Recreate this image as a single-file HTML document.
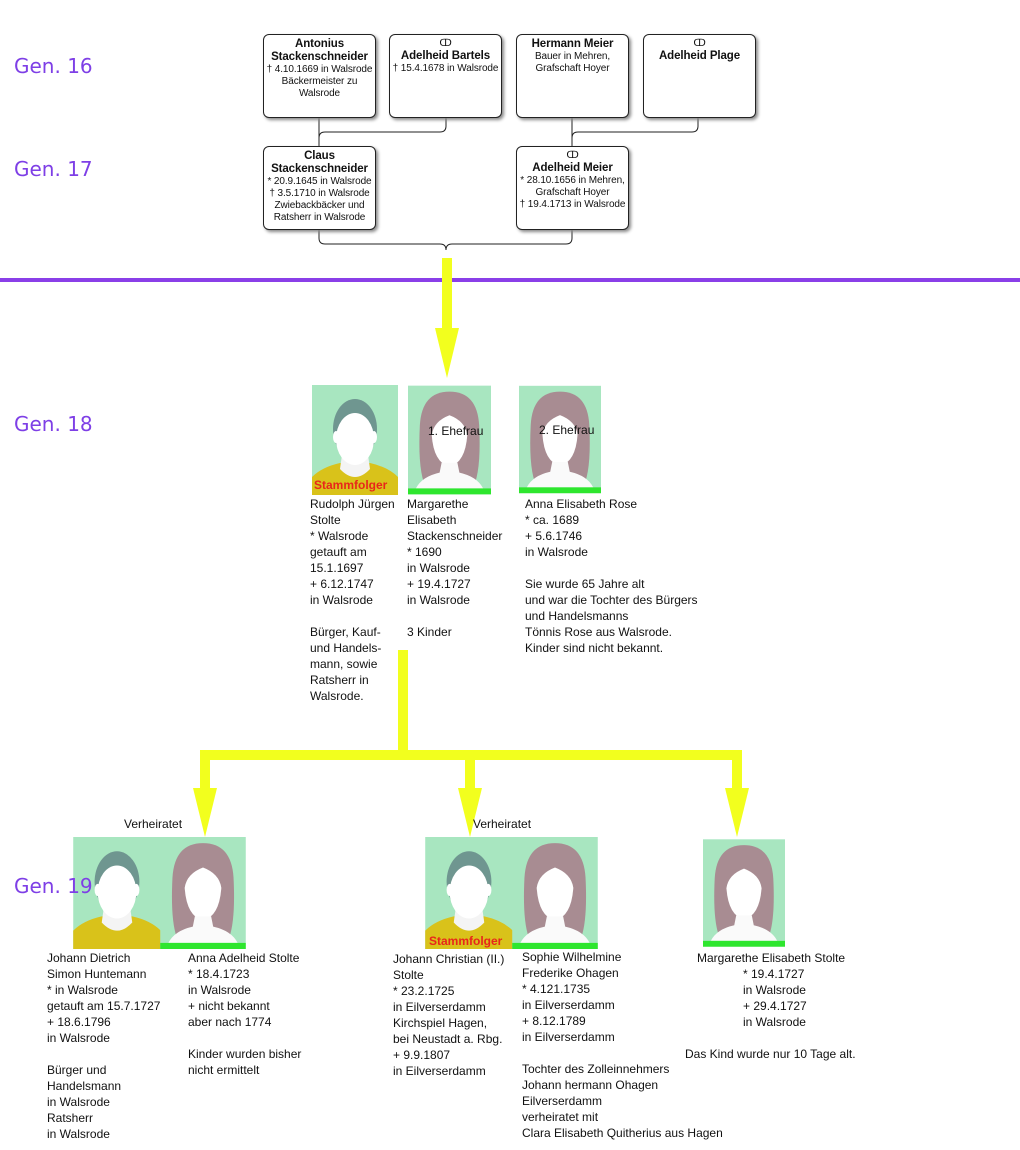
<!DOCTYPE html>
<html><head><meta charset="utf-8"><style>
body{margin:0;width:1020px;height:1150px;background:#fff;position:relative;overflow:hidden;font-family:"Liberation Sans",sans-serif;}
.a{position:absolute}
.g{position:absolute;color:#7e3fe6;font-size:20px;font-family:"DejaVu Sans","Liberation Sans",sans-serif;z-index:5}
.box{position:absolute;border:1px solid #222;border-radius:6px;background:#fff;box-shadow:2px 2px 3px #888;text-align:center;font-size:10px;line-height:12px;color:#111;box-sizing:border-box;padding-top:3px;letter-spacing:-0.1px}
.box b{font-size:11.5px;line-height:13px}
.t{position:absolute;font-size:12px;line-height:16px;color:#111;white-space:pre}
.lbl{position:absolute;font-size:12px;color:#111}
</style></head><body>
<svg width="0" height="0" style="position:absolute">
<defs>
<symbol id="m" viewBox="0 0 86 110">
<rect width="86" height="110" fill="#a8e6c0"/>
<path d="M0 110 L0 92 Q10 82 28 78 L58 78 Q76 82 86 92 L86 110Z" fill="#d9c21a"/>
<path d="M30 70 L56 70 L58 84 Q43 100 28 84Z" fill="#f4f4f4"/>
<ellipse cx="43" cy="44" rx="22" ry="30" fill="#6f9690"/>
<ellipse cx="43" cy="54" rx="19" ry="26" fill="#fff"/>
<ellipse cx="24" cy="52" rx="3" ry="6" fill="#fff"/><ellipse cx="62" cy="52" rx="3" ry="6" fill="#fff"/>
</symbol>
<symbol id="f" viewBox="0 0 84 110">
<rect width="84" height="110" fill="#a8e6c0"/>
<path d="M42 6 Q14 6 12 40 Q10 80 16 98 L68 98 Q74 80 72 40 Q70 6 42 6Z" fill="#a88c92"/>
<path d="M42 30 Q26 36 24 50 Q26 78 42 82 Q58 78 60 50 Q58 36 42 30Z" fill="#fff"/>
<path d="M34 78 L50 78 L52 88 Q70 92 76 104 L8 104 Q14 92 32 88Z" fill="#fafafa"/>
<rect y="104" width="84" height="6" fill="#2ee62e"/>
</symbol>
</defs></svg>

<div class="g" style="left:14px;top:54px">Gen. 16</div>
<div class="g" style="left:14px;top:157px">Gen. 17</div>
<div class="g" style="left:14px;top:412px">Gen. 18</div>
<div class="g" style="left:14px;top:874px">Gen. 19</div>

<svg class="a" style="left:0;top:0" width="1020" height="1150">
<g fill="none" stroke="#222" stroke-width="1">
<path d="M319 118 V146"/>
<path d="M446 118 V126 Q446 132 440 132 H325 Q319 132 319 138"/>
<path d="M572 118 V146"/>
<path d="M698 118 V126 Q698 132 692 132 H578 Q572 132 572 138"/>
<path d="M319 230 V238 Q319 244 325 244 H440 Q446 244 446 250 M446 250 Q446 244 452 244 H566 Q572 244 572 238 V230"/>
</g>
<rect x="0" y="278" width="1020" height="4" fill="#8a3fe8"/>
<g fill="#f2ff1e">
<rect x="442" y="258" width="10" height="72"/>
<polygon points="435,328 459,328 447,378"/>
<rect x="398" y="650" width="10" height="106"/>
<rect x="200" y="750" width="542" height="10"/>
<rect x="200" y="750" width="10" height="40"/>
<polygon points="193,788 217,788 205,837"/>
<rect x="465" y="750" width="10" height="40"/>
<polygon points="458,788 482,788 470,837"/>
<rect x="732" y="750" width="10" height="40"/>
<polygon points="725,788 749,788 737,837"/>
</g>
<use href="#m" x="312" y="385" width="86" height="110"/>
<use href="#f" x="408" y="385" width="83" height="110"/>
<use href="#f" x="519" y="384" width="82" height="111"/>
<use href="#m" x="73" y="837" width="88" height="112"/>
<use href="#f" x="160" y="837" width="86" height="112"/>
<use href="#m" x="425" y="837" width="88" height="112"/>
<use href="#f" x="512" y="837" width="86" height="112"/>
<use href="#f" x="703" y="837" width="82" height="112"/>
</svg>

<div class="box" style="left:263px;top:34px;width:113px;height:84px"><b>Antonius<br>Stackenschneider</b><br>† 4.10.1669 in Walsrode<br>Bäckermeister zu<br>Walsrode</div>
<div class="box" style="left:389px;top:34px;width:113px;height:84px">ↀ<br><b>Adelheid Bartels</b><br>† 15.4.1678 in Walsrode</div>
<div class="box" style="left:516px;top:34px;width:113px;height:84px"><b>Hermann Meier</b><br>Bauer in Mehren,<br>Grafschaft Hoyer</div>
<div class="box" style="left:643px;top:34px;width:113px;height:84px">ↀ<br><b>Adelheid Plage</b></div>
<div class="box" style="left:263px;top:146px;width:113px;height:84px"><b>Claus<br>Stackenschneider</b><br>* 20.9.1645 in Walsrode<br>† 3.5.1710 in Walsrode<br>Zwiebackbäcker und<br>Ratsherr in Walsrode</div>
<div class="box" style="left:516px;top:146px;width:113px;height:84px">ↀ<br><b>Adelheid Meier</b><br>* 28.10.1656 in Mehren,<br>Grafschaft Hoyer<br>† 19.4.1713 in Walsrode</div>

<div class="a" style="left:314px;top:478px;font-weight:bold;color:#e8261a;font-size:12px">Stammfolger</div>
<div class="lbl" style="left:428px;top:424px">1. Ehefrau</div>
<div class="lbl" style="left:539px;top:423px">2. Ehefrau</div>
<div class="t" style="left:310px;top:496px">Rudolph Jürgen
Stolte
* Walsrode
getauft am
15.1.1697
+ 6.12.1747
in Walsrode

Bürger, Kauf-
und Handels-
mann, sowie
Ratsherr in
Walsrode.</div>
<div class="t" style="left:407px;top:496px">Margarethe
Elisabeth
Stackenschneider
* 1690
in Walsrode
+ 19.4.1727
in Walsrode

3 Kinder</div>
<div class="t" style="left:525px;top:496px">Anna Elisabeth Rose
* ca. 1689
+ 5.6.1746
in Walsrode

Sie wurde 65 Jahre alt
und war die Tochter des Bürgers
und Handelsmanns
Tönnis Rose aus Walsrode.
Kinder sind nicht bekannt.</div>

<div class="lbl" style="left:124px;top:817px">Verheiratet</div>
<div class="lbl" style="left:473px;top:817px">Verheiratet</div>
<div class="a" style="left:429px;top:934px;font-weight:bold;color:#e8261a;font-size:12px">Stammfolger</div>

<div class="t" style="left:47px;top:950px">Johann Dietrich
Simon Huntemann
* in Walsrode
getauft am 15.7.1727
+ 18.6.1796
in Walsrode

Bürger und
Handelsmann
in Walsrode
Ratsherr
in Walsrode</div>
<div class="t" style="left:188px;top:950px">Anna Adelheid Stolte
* 18.4.1723
in Walsrode
+ nicht bekannt
aber nach 1774

Kinder wurden bisher
nicht ermittelt</div>
<div class="t" style="left:393px;top:951px">Johann Christian (II.)
Stolte
* 23.2.1725
in Eilverserdamm
Kirchspiel Hagen,
bei Neustadt a. Rbg.
+ 9.9.1807
in Eilverserdamm</div>
<div class="t" style="left:522px;top:949px">Sophie Wilhelmine
Frederike Ohagen
* 4.121.1735
in Eilverserdamm
+ 8.12.1789
in Eilverserdamm

Tochter des Zolleinnehmers
Johann hermann Ohagen
Eilverserdamm
verheiratet mit
Clara Elisabeth Quitherius aus Hagen</div>
<div class="t" style="left:697px;top:950px">Margarethe Elisabeth Stolte</div>
<div class="t" style="left:743px;top:966px">* 19.4.1727
in Walsrode
+ 29.4.1727
in Walsrode</div>
<div class="t" style="left:685px;top:1046px">Das Kind wurde nur 10 Tage alt.</div>
</body></html>
